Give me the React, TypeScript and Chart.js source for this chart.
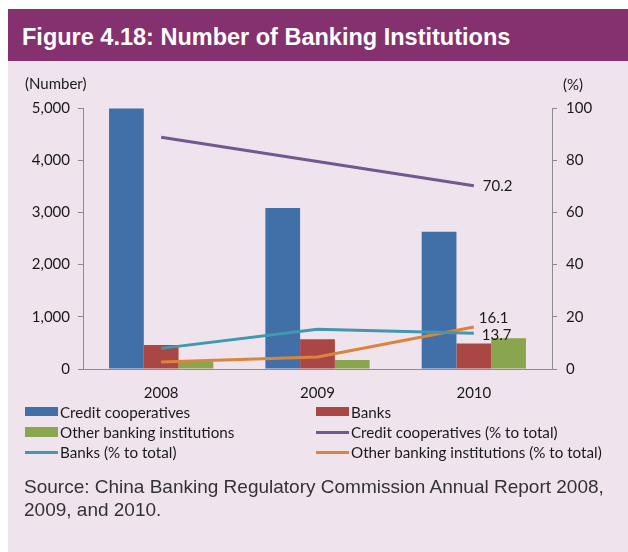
import React, { useEffect, useRef } from "react";
import { Chart, registerables } from "chart.js";

Chart.register(...registerables);

const years = ["2008", "2009", "2010"];
const creditCoops = [4990, 3085, 2630];
const banks = [460, 570, 490];
const otherInst = [140, 172, 590];
const creditPct = [88.8, 79.5, 70.2];
const banksPct = [7.9, 15.2, 13.7];
const otherPct = [2.7, 4.6, 16.1];
const leftTicks = [0, 1000, 2000, 3000, 4000, 5000];
const rightTicks = [0, 20, 40, 60, 80, 100];

const C_BLUE = "#4170A8";
const C_RED = "#AA4643";
const C_GREEN = "#89A54E";
const C_PURPLE = "#71588F";
const C_CYAN = "#4198AF";
const C_ORANGE = "#DB843D";
const AXIS = "#8C8C8C";
const TXT = "#1a1a1a";
const FONT = "Lato";

const legendItems = [
  { label: "Credit cooperatives", color: C_BLUE, kind: "box", col: 0, row: 0 },
  { label: "Banks", color: C_RED, kind: "box", col: 1, row: 0 },
  { label: "Other banking institutions", color: C_GREEN, kind: "box", col: 0, row: 1 },
  { label: "Credit cooperatives (% to total)", color: C_PURPLE, kind: "line", col: 1, row: 1 },
  { label: "Banks (% to total)", color: C_CYAN, kind: "line", col: 0, row: 2 },
  { label: "Other banking institutions (% to total)", color: C_ORANGE, kind: "line", col: 1, row: 2 },
];

const labelPlugin = {
  id: "valueLabels",
  afterDatasetsDraw(chart: any) {
    const { ctx, scales } = chart;
    const x = scales.x;
    const y1 = scales.y1;
    const last = years.length - 1;
    const px = x.getPixelForValue(last);
    ctx.save();
    ctx.font = `15px ${FONT}`;
    ctx.fillStyle = TXT;
    ctx.textBaseline = "middle";
    ctx.textAlign = "left";
    ctx.fillText(String(creditPct[last]), px + 9, y1.getPixelForValue(creditPct[last]));
    ctx.fillText(String(otherPct[last]), px + 5, y1.getPixelForValue(otherPct[last]) - 9);
    ctx.fillText(String(banksPct[last]), px + 8, y1.getPixelForValue(banksPct[last]) + 2);
    ctx.fillText("(Number)", 25, 84);
    ctx.fillText("(%)", 563, 85);
    ctx.restore();
  },
};

export default function App() {
  const ref = useRef<HTMLCanvasElement>(null);
  useEffect(() => {
    if (!ref.current) return;
    const tickFont = { family: FONT, size: 15 };
    const chart = new Chart(ref.current, {
      type: "bar",
      data: {
        labels: years,
        datasets: [
          { type: "bar", label: "Credit cooperatives", data: creditCoops, backgroundColor: C_BLUE, yAxisID: "y", order: 2, categoryPercentage: 0.667, barPercentage: 1 } as any,
          { type: "bar", label: "Banks", data: banks, backgroundColor: C_RED, yAxisID: "y", order: 2, categoryPercentage: 0.667, barPercentage: 1 } as any,
          { type: "bar", label: "Other banking institutions", data: otherInst, backgroundColor: C_GREEN, yAxisID: "y", order: 2, categoryPercentage: 0.667, barPercentage: 1 } as any,
          { type: "line", label: "Credit cooperatives (% to total)", data: creditPct, borderColor: C_PURPLE, borderWidth: 3, pointRadius: 0, tension: 0, yAxisID: "y1", order: 1 } as any,
          { type: "line", label: "Banks (% to total)", data: banksPct, borderColor: C_CYAN, borderWidth: 3, pointRadius: 0, tension: 0, yAxisID: "y1", order: 1 } as any,
          { type: "line", label: "Other banking institutions (% to total)", data: otherPct, borderColor: C_ORANGE, borderWidth: 3, pointRadius: 0, tension: 0, yAxisID: "y1", order: 1 } as any,
        ],
      },
      options: {
        animation: false,
        responsive: false,
        maintainAspectRatio: false,
        layout: { padding: { left: 8, right: 0, top: 108, bottom: 143 } },
        plugins: { legend: { display: false }, tooltip: { enabled: false } },
        scales: {
          x: {
            grid: { display: false },
            border: { display: true, color: AXIS, width: 1 },
            ticks: { font: tickFont, color: TXT, padding: 7 },
            afterFit: (s: any) => { s.height = 40; },
          },
          y: {
            position: "left",
            min: 0,
            max: 5000,
            afterBuildTicks: (s: any) => { s.ticks = leftTicks.map((v) => ({ value: v })); },
            grid: { display: true, drawOnChartArea: false, drawTicks: true, tickLength: 5, color: AXIS },
            border: { display: true, color: AXIS, width: 1 },
            ticks: { font: tickFont, color: TXT, padding: 8, callback: (v: any) => Number(v).toLocaleString("en-US") },
            afterFit: (s: any) => { s.width = 75; },
          },
          y1: {
            position: "right",
            min: 0,
            max: 100,
            afterBuildTicks: (s: any) => { s.ticks = rightTicks.map((v) => ({ value: v })); },
            grid: { display: true, drawOnChartArea: false, drawTicks: true, tickLength: 5, color: AXIS },
            border: { display: true, color: AXIS, width: 1 },
            ticks: { font: tickFont, color: TXT, padding: 9 },
            afterFit: (s: any) => { s.width = 76; },
          },
        },
      },
      plugins: [labelPlugin],
    } as any);
    return () => chart.destroy();
  }, []);

  return (
    <div style={{ position: "absolute", left: 0, top: 0, width: 628, height: 552, background: "#fff", overflow: "hidden" }}>
      <div style={{ position: "absolute", left: 8, top: 9, width: 620, height: 52, background: "#86316F" }} />
      <div style={{ position: "absolute", left: 8, top: 61, width: 620, height: 491, background: "#EFE4EE" }} />
      <div style={{ position: "absolute", left: 22, top: 24, color: "#fff", fontFamily: "'Liberation Sans', Arial, sans-serif", fontWeight: "bold", fontSize: 23.5, lineHeight: "normal", whiteSpace: "nowrap" }}>
        Figure 4.18: Number of Banking Institutions
      </div>
      <canvas ref={ref} width={628} height={552} style={{ position: "absolute", left: 0, top: 0, width: 628, height: 552 }} />
      {legendItems.map((it, i) => {
        const left = it.col === 0 ? 25 : 316;
        const cy = 411.7 + it.row * 20.3;
        return (
          <div key={i}>
            <div style={{ position: "absolute", left, top: it.kind === "box" ? cy - 4.7 : cy - 1.5, width: 33, height: it.kind === "box" ? 9.4 : 3, background: it.color }} />
            <div style={{ position: "absolute", left: left + 35, top: cy - 10, height: 20, lineHeight: "20px", fontFamily: FONT, fontSize: 15.2, color: TXT, whiteSpace: "nowrap" }}>
              {it.label}
            </div>
          </div>
        );
      })}
      <div style={{ position: "absolute", left: 24, top: 475, fontFamily: "'Liberation Sans', Arial, sans-serif", fontSize: 19, lineHeight: "23px", color: "#333" }}>
        Source: China Banking Regulatory Commission Annual Report 2008,<br />2009, and 2010.
      </div>
    </div>
  );
}
